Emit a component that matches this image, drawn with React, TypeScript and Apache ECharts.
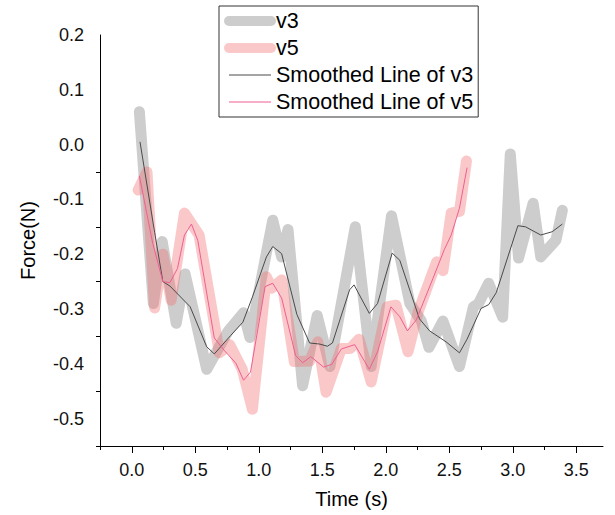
import React, { useEffect, useRef } from "react";
import * as echarts from "echarts";

// ---- data (Time s, Force N) ----
const v3: [number, number][] = [
  [0.06, 0.06], [0.17, -0.29], [0.24, -0.177], [0.35, -0.326], [0.42, -0.236],
  [0.59, -0.41], [0.76, -0.34], [0.88, -0.307], [0.93, -0.352], [1.11, -0.138],
  [1.18, -0.205], [1.23, -0.155], [1.345, -0.44], [1.46, -0.312], [1.56, -0.405],
  [1.76, -0.15], [1.885, -0.405], [2.045, -0.13], [2.19, -0.29], [2.28, -0.322],
  [2.34, -0.37], [2.45, -0.322], [2.58, -0.405], [2.69, -0.296], [2.73, -0.29],
  [2.81, -0.253], [2.92, -0.315], [2.98, -0.017], [3.045, -0.207], [3.16, -0.107],
  [3.22, -0.205], [3.34, -0.174], [3.39, -0.12],
];

const v5: [number, number][] = [
  [0.05, -0.083], [0.12, -0.05], [0.18, -0.298], [0.245, -0.2], [0.31, -0.284],
  [0.415, -0.125], [0.53, -0.165], [0.69, -0.38], [0.77, -0.365], [0.87, -0.41],
  [0.95, -0.483], [1.06, -0.241], [1.1, -0.262], [1.18, -0.247], [1.28, -0.396],
  [1.4, -0.395], [1.465, -0.36], [1.53, -0.452], [1.65, -0.372], [1.72, -0.372],
  [1.79, -0.355], [1.885, -0.433], [2.01, -0.296], [2.08, -0.293], [2.175, -0.378],
  [2.255, -0.305], [2.4, -0.214], [2.45, -0.23], [2.515, -0.125], [2.58, -0.122],
  [2.635, -0.03],
];

const smoothV3: [number, number][] = [
  [0.065, 0.005], [0.18, -0.16], [0.245, -0.25], [0.3, -0.258], [0.46, -0.296],
  [0.59, -0.369], [0.65, -0.382], [0.78, -0.348], [0.875, -0.324], [0.95, -0.278],
  [1.06, -0.205], [1.11, -0.186], [1.18, -0.199], [1.3, -0.31], [1.4, -0.362],
  [1.48, -0.364], [1.54, -0.368], [1.58, -0.362], [1.715, -0.265], [1.75, -0.256],
  [1.87, -0.308], [1.935, -0.29], [2.05, -0.198], [2.11, -0.211], [2.265, -0.318],
  [2.345, -0.34], [2.475, -0.36], [2.58, -0.38], [2.64, -0.355], [2.75, -0.299],
  [2.81, -0.292], [2.87, -0.27], [3.04, -0.148], [3.1, -0.15], [3.22, -0.165],
  [3.31, -0.159], [3.39, -0.145],
];

const smoothV5: [number, number][] = [
  [0.06, -0.057], [0.165, -0.18], [0.245, -0.25], [0.3, -0.252], [0.36, -0.226],
  [0.415, -0.165], [0.47, -0.145], [0.52, -0.175], [0.65, -0.353], [0.73, -0.376],
  [0.82, -0.399], [0.88, -0.43], [0.935, -0.415], [1.05, -0.259], [1.11, -0.253],
  [1.18, -0.28], [1.29, -0.385], [1.345, -0.398], [1.41, -0.387], [1.51, -0.406],
  [1.575, -0.401], [1.65, -0.373], [1.755, -0.365], [1.87, -0.41], [1.935, -0.378],
  [2.04, -0.296], [2.11, -0.314], [2.17, -0.34], [2.24, -0.32], [2.37, -0.245],
  [2.46, -0.192], [2.515, -0.165], [2.58, -0.116], [2.64, -0.042],
];

const xLabelValues = [0, 0.5, 1, 1.5, 2, 2.5, 3, 3.5];
const xMinorTickValues = [-0.25, 0.25, 0.75, 1.25, 1.75, 2.25, 2.75, 3.25];
const yLabelValues = [-0.5, -0.4, -0.3, -0.2, -0.1, 0, 0.1, 0.2];
const yTickValues = [-0.55, -0.45, -0.35, -0.25, -0.15, -0.05];

const seriesNames = ["v3", "v5", "Smoothed Line of v3", "Smoothed Line of v5"];

const FONT = 'Arial, "Liberation Sans", sans-serif';
const GRAY = "#cdcdcd";
const PINK = "rgba(242,110,110,0.38)";
const DARK = "#4a4a4a";
const HOTPINK = "#ef5f92";

export default function App() {
  const ref = useRef<HTMLDivElement>(null);

  useEffect(() => {
    document.body.style.margin = "0";
    if (!ref.current) return;
    const chart = echarts.init(ref.current, undefined, { renderer: "svg" });
    const fmt = (v: number) => (Math.abs(v) < 1e-9 ? "0.0" : v.toFixed(1));
    chart.setOption({
      animation: false,
      backgroundColor: "#ffffff",
      grid: { left: 100, right: 12, top: 35, bottom: 69 },
      legend: {
        orient: "vertical",
        left: 219,
        top: 6,
        itemWidth: 42,
        itemHeight: 10,
        itemGap: 5,
        padding: [4, 5, 4, 5],
        borderColor: "#333",
        borderWidth: 1,
        itemStyle: { opacity: 0 },
        textStyle: { fontSize: 21.5, lineHeight: 21, color: "#000", fontFamily: FONT },
        data: [
          { name: seriesNames[0], itemStyle: { opacity: 0 }, lineStyle: { width: 10, cap: "round", color: GRAY } },
          { name: seriesNames[1], itemStyle: { opacity: 0 }, lineStyle: { width: 10, cap: "round", color: PINK } },
          { name: seriesNames[2], itemStyle: { opacity: 0 }, lineStyle: { width: 1, color: DARK } },
          { name: seriesNames[3], itemStyle: { opacity: 0 }, lineStyle: { width: 1, color: HOTPINK } },
        ],
      },
      xAxis: [
        {
          type: "value",
          min: -0.25,
          max: 3.71,
          name: "Time (s)",
          nameLocation: "middle",
          nameGap: 43,
          nameTextStyle: { fontSize: 20, color: "#000", fontFamily: FONT },
          axisLine: { show: true, onZero: false, lineStyle: { color: "#000", width: 1 } },
          axisTick: { show: true, customValues: xLabelValues, length: 7, lineStyle: { color: "#000" } },
          axisLabel: {
            customValues: xLabelValues,
            formatter: fmt,
            fontSize: 18,
            margin: 15,
            color: "#111",
            fontFamily: FONT,
          },
          splitLine: { show: false },
        },
        {
          type: "value",
          min: -0.25,
          max: 3.71,
          position: "bottom",
          axisLine: { show: false, onZero: false },
          axisTick: { show: true, customValues: xMinorTickValues, length: 4, lineStyle: { color: "#000" } },
          axisLabel: { show: false },
          splitLine: { show: false },
        },
      ],
      yAxis: {
        type: "value",
        min: -0.55,
        max: 0.2,
        name: "Force(N)",
        nameLocation: "middle",
        nameRotate: 90,
        nameGap: 62,
        nameTextStyle: { fontSize: 20, color: "#000", fontFamily: FONT },
        axisLine: { show: true, onZero: false, lineStyle: { color: "#000", width: 1 } },
        axisTick: { show: true, customValues: yTickValues, length: 4, lineStyle: { color: "#000" } },
        axisLabel: {
          customValues: yLabelValues,
          formatter: fmt,
          fontSize: 18,
          margin: 16,
          color: "#111",
          fontFamily: FONT,
        },
        splitLine: { show: false },
      },
      series: [
        {
          type: "line",
          name: seriesNames[0],
          data: v3,
          symbol: "none",
          showSymbol: false,
          color: GRAY,
          lineStyle: { color: GRAY, width: 11, cap: "round", join: "round" },
          z: 1,
        },
        {
          type: "line",
          name: seriesNames[1],
          data: v5,
          symbol: "none",
          showSymbol: false,
          color: PINK,
          lineStyle: { color: PINK, width: 11, cap: "round", join: "round" },
          z: 2,
        },
        {
          type: "line",
          name: seriesNames[2],
          data: smoothV3,
          symbol: "none",
          showSymbol: false,
          color: DARK,
          lineStyle: { color: DARK, width: 1 },
          z: 3,
        },
        {
          type: "line",
          name: seriesNames[3],
          data: smoothV5,
          symbol: "none",
          showSymbol: false,
          color: HOTPINK,
          lineStyle: { color: HOTPINK, width: 1 },
          z: 4,
        },
      ],
    });
    return () => chart.dispose();
  }, []);

  return <div ref={ref} style={{ width: 615, height: 515 }} />;
}
